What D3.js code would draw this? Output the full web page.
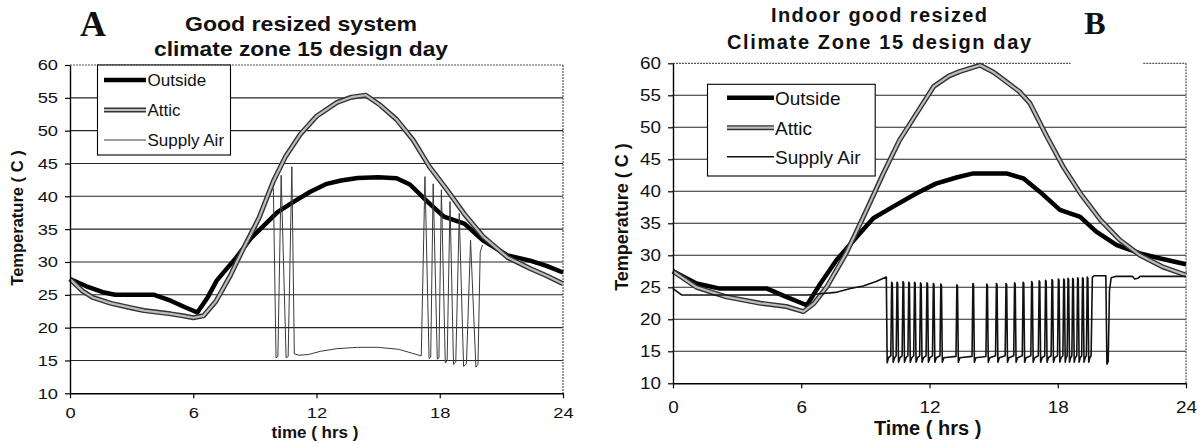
<!DOCTYPE html>
<html lang="en">
<head>
<meta charset="UTF-8">
<title>Good resized system - climate zone 15 design day</title>
<script src="https://d3js.org/d3.v7.min.js"></script>
<style>
  body { margin: 0; background: white; }
  text { font-family: "Liberation Sans", Arial, sans-serif; fill: #111; }
</style>
</head>
<body>
<script>
const w = 1203;
const h = 444;

// [time (hrs), temperature (C)]
const outsideA = [[0,27.4],[0.8,26.3],[1.6,25.4],[2.2,25.0],[3.2,25.0],[4.1,25.0],[4.9,24.1],[5.6,23.1],[6.2,22.3],[6.7,24.6],[7.15,27.2],[8.1,30.7],[8.8,33.6],[9.3,35.1],[10.1,37.6],[10.9,39.2],[11.7,40.7],[12.5,41.9],[13.2,42.4],[14.0,42.8],[15.0,42.9],[15.9,42.75],[16.55,41.8],[17.4,39.2],[18.2,36.9],[19.2,35.85],[20.1,33.3],[21.3,31.0],[22.4,30.2],[23.2,29.4],[24,28.4]];
const atticA = [[0,27.4],[0.6,25.6],[1.1,24.6],[2.0,23.7],[3.0,23.0],[3.6,22.6],[4.9,22.1],[5.5,21.8],[6.0,21.5],[6.5,21.8],[7.1,24.0],[7.8,27.9],[8.4,31.8],[9.2,36.7],[9.9,42.3],[10.5,46.1],[11.2,49.4],[12.0,52.2],[13.0,54.3],[13.7,55.1],[14.4,55.4],[15.1,53.9],[15.9,51.7],[16.7,48.6],[17.5,44.5],[18.35,41.0],[19.2,37.3],[20.1,33.9],[21.3,30.7],[22.4,29.0],[23.2,27.9],[24,26.7]];
const supplyA = [[9.9,41.2],[10.03,15.4],[10.12,15.6],[10.28,43.2],[10.52,15.4],[10.62,15.6],[10.8,44.5],[10.92,16.0],[11.15,15.8],[11.6,15.9],[12.2,16.4],[13.0,16.8],[14.0,17.0],[15.0,17.0],[16.0,16.7],[17.1,15.7],[17.28,43.0],[17.48,15.3],[17.56,15.5],[17.68,41.9],[17.88,15.2],[17.96,15.4],[18.08,41.0],[18.27,14.6],[18.36,15.0],[18.5,39.2],[18.67,14.4],[18.78,14.8],[18.95,37.4],[19.16,14.1],[19.3,14.5],[19.5,33.3],[19.76,14.0],[19.86,14.4],[19.97,31.5],[20.08,32.6]];

const outsideB = [[0,27.5],[1.1,25.6],[2.2,24.8],[3.3,24.8],[4.4,24.8],[5.3,23.5],[6.26,22.2],[6.9,25.6],[7.66,29.3],[8.6,32.9],[9.37,35.8],[10.3,37.6],[11.4,39.7],[12.3,41.2],[13.3,42.2],[14.05,42.8],[15.6,42.8],[16.4,42.0],[17.17,39.9],[18.1,37.1],[19.05,36.0],[19.8,33.7],[20.76,31.6],[21.85,30.3],[22.8,29.5],[24,28.6]];
const atticB = [[0,27.5],[1.1,25.0],[2.5,23.5],[4.1,22.5],[5.3,22.0],[6.1,21.2],[6.6,22.5],[7.2,25.1],[8.1,30.3],[9.06,37.1],[9.84,42.8],[10.6,48.0],[11.4,52.2],[12.2,56.4],[12.9,58.0],[13.4,58.7],[14.37,59.7],[15.0,58.6],[15.6,57.1],[16.2,55.6],[16.7,53.75],[17.5,48.5],[18.26,43.8],[19.05,39.7],[20.0,35.5],[20.9,32.4],[21.85,30.0],[22.9,28.2],[24,26.9]];
const supplyB = [[0,24.8],[0.4,23.8],[2,23.8],[4,23.8],[6.3,23.8],[6.9,24.0],[7.6,24.2],[8.3,24.8],[8.9,25.2],[9.5,25.9],[9.98,26.6],
  [10.02,13.2],[10.08,14.0],[10.19,14.3],[10.23,25.8],[10.26,25.6],
  [10.3,13.3],[10.37,14.0],[10.44,14.3],[10.48,25.8],[10.51,25.6],
  [10.55,13.3],[10.62,14.0],[10.72,14.3],[10.76,25.9],[10.79,25.7],
  [10.83,13.3],[10.9,14.0],[10.99,14.3],[11.03,25.8],[11.06,25.6],
  [11.1,13.3],[11.17,14.0],[11.26,14.3],[11.3,25.8],[11.33,25.6],
  [11.37,13.3],[11.44,14.0],[11.54,14.3],[11.58,25.7],[11.61,25.5],
  [11.65,13.3],[11.72,14.0],[11.84,14.3],[11.88,25.7],[11.91,25.5],
  [11.95,13.3],[12.02,14.0],[12.14,14.3],[12.18,25.6],[12.21,25.4],
  [12.25,13.3],[12.32,14.0],[12.49,14.3],[12.53,25.5],[12.56,25.3],
  [12.6,13.3],[12.67,14.0],[13.24,14.2],[13.28,25.4],[13.31,25.2],
  [13.35,13.3],[13.42,14.0],[13.99,14.2],[14.03,25.6],[14.06,25.4],
  [14.1,13.3],[14.17,14.0],[14.64,14.2],[14.68,25.5],[14.71,25.3],
  [14.75,13.3],[14.82,14.0],[15.09,14.3],[15.13,25.6],[15.16,25.4],
  [15.2,13.3],[15.27,14.0],[15.54,14.3],[15.58,25.6],[15.61,25.4],
  [15.65,13.3],[15.72,14.0],[15.94,14.3],[15.98,25.7],[16.01,25.5],
  [16.05,13.3],[16.12,14.0],[16.34,14.3],[16.38,25.8],[16.41,25.6],
  [16.45,13.3],[16.52,14.0],[16.74,14.3],[16.78,25.9],[16.81,25.7],
  [16.85,13.3],[16.92,14.0],[17.09,14.3],[17.13,26.0],[17.16,25.8],
  [17.2,13.3],[17.27,14.0],[17.39,14.3],[17.43,26.1],[17.46,25.9],
  [17.5,13.3],[17.56,14.0],[17.69,14.3],[17.73,26.2],[17.76,26.0],
  [17.8,13.3],[17.86,14.0],[17.99,14.3],[18.03,26.3],[18.06,26.1],
  [18.1,13.3],[18.15,14.0],[18.24,14.3],[18.28,26.3],[18.31,26.1],
  [18.35,13.3],[18.39,14.0],[18.44,14.3],[18.48,26.4],[18.51,26.2],
  [18.55,13.3],[18.6,14.0],[18.66,14.3],[18.7,26.4],[18.73,26.2],
  [18.77,13.3],[18.82,14.0],[18.89,14.3],[18.93,26.5],[18.96,26.3],
  [19.0,13.3],[19.05,14.0],[19.12,14.3],[19.16,26.5],[19.19,26.3],
  [19.23,13.3],[19.28,14.0],[19.34,14.3],[19.38,26.6],[19.41,26.4],
  [19.45,13.3],[19.5,14.0],[19.56,14.3],[19.62,26.6],[19.7,26.8],[20.25,26.8],
  [20.3,13.0],[20.36,13.4],[20.42,24.5],[20.5,26.5],[20.7,26.7],[21.5,26.7],[21.6,26.3],[21.75,26.4],[21.85,26.7],[24,26.7]];

const yTicks = [10, 15, 20, 25, 30, 35, 40, 45, 50, 55, 60];
const xTicks = [0, 6, 12, 18, 24];
const seriesNames = ["Outside", "Attic", "Supply Air"];
const titlesA = ["Good resized system", "climate zone 15 design day"];
const titlesB = ["Indoor good resized", "Climate Zone 15 design day"];

const svg = d3.select("body")
    .append("svg")
    .attr("width", w)
    .attr("height", h)
    .style("background-color", "white");

// widen text horizontally, the scan is a bit stretched
function stretch(sel, sx) {
    sel.each(function () {
        const len = this.getComputedTextLength();
        d3.select(this).attr("textLength", len * sx).attr("lengthAdjust", "spacingAndGlyphs");
    });
}

function drawSeries(g, data, kind, line) {
    if (kind === 0) {
        g.append("path").datum(data).attr("d", line)
            .attr("fill", "none").attr("stroke", "#000").attr("stroke-width", 4.5)
            .attr("stroke-linejoin", "round");
    } else if (kind === 1) {
        g.append("path").datum(data).attr("d", line)
            .attr("fill", "none").attr("stroke", "#333").attr("stroke-width", 5)
            .attr("stroke-linejoin", "round");
        g.append("path").datum(data).attr("d", line)
            .attr("fill", "none").attr("stroke", "#bdbdbd").attr("stroke-width", 2.2)
            .attr("stroke-linejoin", "round");
    } else {
        g.append("path").datum(data).attr("d", line)
            .attr("fill", "none").attr("stroke", line.color).attr("stroke-width", line.thin)
            .attr("stroke-linejoin", "round");
    }
}

function drawPanel(p) {
    const x = d3.scaleLinear().domain([0, 24]).range([p.x0, p.x1]);
    const y = d3.scaleLinear().domain([10, 60]).range([p.y0, p.y1]);
    const g = svg.append("g");

    // gridlines
    g.selectAll("line.grid")
        .data(yTicks.slice(1, -1))
        .enter()
        .append("line")
        .attr("class", "grid")
        .attr("x1", p.x0).attr("x2", p.x1)
        .attr("y1", d => y(d)).attr("y2", d => y(d))
        .attr("stroke", "#262626").attr("stroke-width", 1.1);

    // plot area border (top and right)
    p.topSegs.forEach(s => {
        g.append("line")
            .attr("x1", x(s[0])).attr("x2", x(s[1]))
            .attr("y1", y(60)).attr("y2", y(60))
            .attr("stroke", "#555").attr("stroke-width", 1.2).attr("stroke-dasharray", "2,1");
    });
    g.append("line")
        .attr("x1", x(24)).attr("x2", x(24))
        .attr("y1", y(60)).attr("y2", y(10))
        .attr("stroke", "#555").attr("stroke-width", 1.2).attr("stroke-dasharray", "2,1");

    const line = d3.line().x(d => x(d[0])).y(d => y(d[1]));
    line.thin = p.supplyWidth;
    line.color = p.supplyColor;
    drawSeries(g, p.outside, 0, line);
    drawSeries(g, p.attic, 1, line);
    drawSeries(g, p.supply, 2, line);

    // axes
    const yAxis = d3.axisLeft(y).tickValues(yTicks).tickSize(5).tickSizeOuter(0).tickPadding(7);
    const yg = g.append("g").attr("transform", "translate(" + p.x0 + ",0)").call(yAxis);
    const xAxis = d3.axisBottom(x).tickValues(xTicks).tickSize(5).tickSizeOuter(0).tickPadding(p.xPad);
    const xg = g.append("g").attr("transform", "translate(0," + p.y0 + ")").call(xAxis);
    [yg, xg].forEach(a => {
        a.attr("font-family", null).attr("font-size", null);
        a.select(".domain").attr("stroke", "#000").attr("stroke-width", 1.4);
        a.selectAll(".tick line").attr("stroke", "#000").attr("stroke-width", 1.2);
        a.selectAll(".tick text").style("font-size", p.tickSize + "px").attr("fill", "#111");
        stretch(a.selectAll(".tick text"), 1.18);
    });

    // titles
    p.titles.forEach((t, i) => {
        g.append("text")
            .attr("x", p.titleX).attr("y", p.titleY[i])
            .attr("text-anchor", "middle")
            .style("font-size", p.titleSize + "px").style("font-weight", "bold")
            .attr("textLength", p.titleW[i]).attr("lengthAdjust", p.titleAdjust)
            .text(t);
    });

    // panel letter
    g.append("text")
        .attr("x", p.letterX).attr("y", p.letterY)
        .attr("text-anchor", "middle")
        .style("font-family", "'Liberation Serif', 'Times New Roman', serif")
        .style("font-size", p.letterSize + "px").style("font-weight", "bold")
        .text(p.letter);

    // axis titles
    g.append("text")
        .attr("transform", "translate(" + p.yLabX + "," + p.yLabY + ") rotate(-90)")
        .attr("text-anchor", "middle")
        .style("font-size", p.yLabSize + "px").style("font-weight", "bold")
        .text("Temperature ( C )");
    g.append("text")
        .attr("x", p.xLabX).attr("y", p.xLabY)
        .attr("text-anchor", "middle")
        .style("font-size", p.xLabSize + "px").style("font-weight", "bold")
        .text(p.xLabel);

    // legend
    const L = p.legend;
    const lg = g.append("g").attr("class", "legend");
    lg.append("rect")
        .attr("x", L.x).attr("y", L.y).attr("width", L.w).attr("height", L.h)
        .attr("fill", "white").attr("stroke", "#000").attr("stroke-width", 1.1);
    const legLine = d3.line().x(d => d[0]).y(d => d[1]);
    legLine.thin = p.supplyWidth;
    legLine.color = p.supplyColor;
    seriesNames.forEach((name, i) => {
        const ry = L.rows[i];
        drawSeries(lg, [[L.lx0, ry], [L.lx1, ry]], i, legLine);
        lg.append("text")
            .attr("x", L.tx).attr("y", ry).attr("dy", "0.36em")
            .style("font-size", L.size + "px")
            .text(name);
    });
}

drawPanel({
    x0: 70, x1: 563, y0: 393.3, y1: 65,
    outside: outsideA, attic: atticA, supply: supplyA, supplyWidth: 1, supplyColor: "#3a3a3a",
    topSegs: [[0, 24]],
    tickSize: 15.5, xPad: 9,
    titles: titlesA, titleX: 301, titleY: [30.5, 56], titleW: [232, 294], titleSize: 20.5, titleAdjust: "spacingAndGlyphs",
    letter: "A", letterX: 93, letterY: 36, letterSize: 36,
    yLabX: 23, yLabY: 218, yLabSize: 16.5,
    xLabel: "time ( hrs )", xLabX: 315, xLabY: 438, xLabSize: 17,
    legend: { x: 97.5, y: 65, w: 133, h: 90, rows: [80, 110, 140], lx0: 104, lx1: 146, tx: 147.5, size: 17 }
});

drawPanel({
    x0: 673, x1: 1186, y0: 383.3, y1: 63.3,
    outside: outsideB, attic: atticB, supply: supplyB, supplyWidth: 1.6, supplyColor: "#111",
    topSegs: [[0, 18.6], [22, 24]],
    tickSize: 16, xPad: 13,
    titles: titlesB, titleX: 879, titleY: [21.7, 49.3], titleW: [216, 304], titleSize: 20, titleAdjust: "spacing",
    letter: "B", letterX: 1095, letterY: 34, letterSize: 32,
    yLabX: 628, yLabY: 217, yLabSize: 18,
    xLabel: "Time ( hrs )", xLabX: 927.6, xLabY: 435, xLabSize: 20,
    legend: { x: 707.5, y: 84.3, w: 167.7, h: 91.7, rows: [97.7, 127.7, 156.7], lx0: 727, lx1: 774, tx: 775, size: 19 }
});
</script>
</body>
</html>
